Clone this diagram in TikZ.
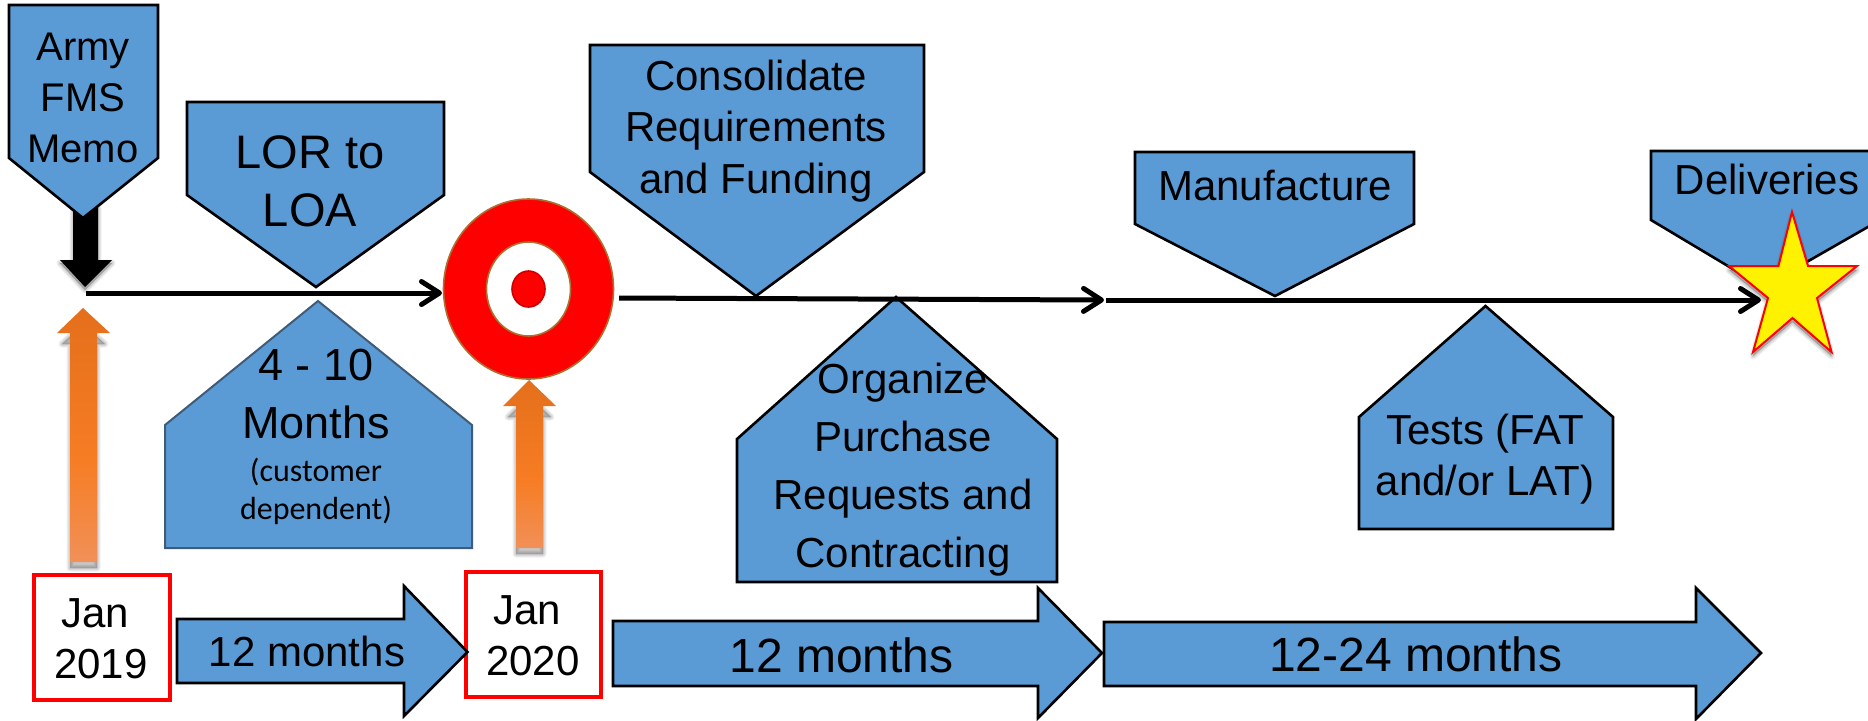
\documentclass[tikz,border=0pt]{standalone}
\usepackage{fontspec}
\setmainfont{Liberation Sans}
\newfontfamily\carlitofont{Carlito}
\usetikzlibrary{arrows.meta,shapes.geometric}
\definecolor{blueshape}{HTML}{5B9BD5}
\definecolor{targetedge}{HTML}{AE6F30}
\definecolor{softedge}{HTML}{3F5B78}
\pgfdeclareverticalshading{orangefade}{100bp}{
  rgb(0bp)=(0.945,0.565,0.345);
  rgb(25bp)=(0.945,0.565,0.345);
  rgb(45bp)=(0.965,0.490,0.140);
  rgb(75bp)=(0.895,0.435,0.105);
  rgb(100bp)=(0.895,0.435,0.105)}
\newcommand{\fsz}[2]{\fontsize{#1}{#2}\selectfont}
\newcommand{\softshadow}[2]{\foreach \w in {1,3,5,7}{\path[fill=black,draw=black,opacity=.06,line width=\w*.5pt,line join=round,shift={(#1)}] #2;}}
\tikzset{
  bluebox/.style={fill=blueshape,draw=black,line width=1.3pt,line join=miter},
  softbox/.style={fill=blueshape,draw=softedge,line width=1pt,line join=miter},
  orangearrow/.style={shading=orangefade,draw=none},
  datebox/.style={fill=white,draw=red,line width=2.4pt},
  timeline/.style={line width=2.5pt,draw=black,-{Straight Barb[length=9pt,width=11.5pt,line cap=round,line join=round]}},
  lbl/.style={anchor=base,align=center,inner sep=0pt,outer sep=0pt,text=black},
  ring/.style={ellipse,inner sep=0pt,outer sep=0pt,draw=targetedge,line width=.8pt},
}
\begin{document}
\begin{tikzpicture}[x=.5pt,y=-.5pt]
\useasboundingbox (0,0) rectangle (1868,720);
\fill[white] (0,0) rectangle (1868,720);

% black down arrow
\softshadow{0,3}{(73,205)--(98,205)--(98,260)--(112,260)--(85,287)--(60,260)--(73,260)--cycle}
\fill[black] (73,205)--(98,205)--(98,260)--(112,260)--(85,287)--(60,260)--(73,260)--cycle;

% orange arrows
\softshadow{0,6}{(70,338)--(62,338)--(83,318)--(105,338)--(97,338)--(97,562)--(70,562)--cycle}
\shade[orangearrow] (70,333)--(57,333)--(83,308)--(110,333)--(97,333)--(97,562)--(70,562)--cycle;
\softshadow{0,6}{(516,411)--(508,411)--(529,390)--(551,411)--(543,411)--(543,548)--(516,548)--cycle}
\shade[orangearrow] (516,406)--(503,406)--(529,380)--(556,406)--(543,406)--(543,548)--(516,548)--cycle;

% pointing-down pentagons
\draw[bluebox] (9,5)--(158,5)--(158,158)--(83,218)--(9,158)--cycle;
\draw[bluebox] (187,102)--(444,102)--(444,195)--(316,287)--(187,195)--cycle;
\draw[bluebox] (590,45)--(924,45)--(924,172)--(756,296)--(590,172)--cycle;
\draw[bluebox] (1135,152)--(1414,152)--(1414,224)--(1275,296)--(1135,224)--cycle;
\draw[bluebox] (1651,151)--(1880,151)--(1880,220)--(1763,287)--(1651,220)--cycle;

% pointing-up houses
\draw[softbox] (318,301)--(472,425)--(472,548)--(165,548)--(165,425)--cycle;
\draw[bluebox] (896,297)--(1057,439)--(1057,582)--(737,582)--(737,439)--cycle;
\draw[bluebox] (1485.5,306)--(1613,417)--(1613,529)--(1359,529)--(1359,417)--cycle;

% target
\node[ring,fill=red,minimum width=170pt/2,minimum height=180pt/2] (target) at (528.5,289) {};
\node[ring,fill=white,minimum width=84pt/2,minimum height=94pt/2] (targetmid) at (528.5,289) {};
\node[ring,fill=red,draw=red!80!black,minimum width=33pt/2,minimum height=36pt/2] (targetcore) at (528.5,289) {};

% timeline
\coordinate (lineA) at (86,293);
\coordinate (lineAend) at (442,293);
\coordinate (lineB) at (619,298);
\coordinate (lineBend) at (1104,300);
\coordinate (lineC) at (1106,300);
\coordinate (lineCend) at (1761,300);
\draw[timeline] (lineA) -- (lineAend);
\draw[timeline] (lineB) -- (lineBend);
\draw[timeline] (lineC) -- (lineCend);

% star
\softshadow{0,4}{(1792,212)--(1808,266)--(1857,266)--(1817,298)--(1831.5,352)--(1792.5,318)--(1753,352)--(1768,298)--(1729,266)--(1778.5,266)--cycle}
\draw[fill=yellow,draw=red,line width=1pt,line join=miter] (1792,212)--(1808,266)--(1857,266)--(1817,298)--(1831.5,352)--(1792.5,318)--(1753,352)--(1768,298)--(1729,266)--(1778.5,266)--cycle;

% date boxes
\node[datebox,minimum width=68pt,minimum height=62.5pt,inner sep=0pt] (jan19) at (102,637.5) {};
\node[datebox,minimum width=67.5pt,minimum height=62.5pt,inner sep=0pt] (jan20) at (533.5,634.5) {};

% block arrows
\draw[bluebox] (177,619)--(404,619)--(404,586)--(467.5,652)--(404,716)--(404,683)--(177,683)--cycle;
\draw[bluebox] (613,621)--(1038,621)--(1038,588)--(1102,653)--(1038,718)--(1038,686)--(613,686)--cycle;
\draw[bluebox] (1104,622)--(1696,622)--(1696,588)--(1761,653)--(1696,719)--(1696,686)--(1104,686)--cycle;

% labels
\node[lbl,font=\fsz{20}{25.5}] (armytext) at (83,162) {Army\\FMS\\Memo};
\node[lbl,font=\fsz{23.5}{29}] (lortext) at (310,226) {LOR to\\LOA};
\node[lbl,font=\fsz{21}{25.7}] (constext) at (756,193) {Consolidate\\Requirements\\and Funding};
\node[lbl,font=\fsz{21}{26}] (manutext) at (1275,200) {Manufacture};
\node[lbl,font=\fsz{21}{26}] (delivtext) at (1767,194) {Deliveries};
\node[lbl,font=\fsz{22.5}{29}] (monthstext) at (316,438) {4 - 10\\Months};
\node[lbl,font=\fsz{16}{19}\carlitofont] (custtext) at (316,519) {(customer\\dependent)};
\node[lbl,font=\fsz{21}{29}] (orgtext) at (903,567) {Organize\\Purchase\\Requests and\\Contracting};
\node[lbl,font=\fsz{21}{25.5}] (teststext) at (1485,495) {Tests (FAT\\and/or LAT)};
\node[lbl,font=\fsz{21}{25.5}] (jan19text) at (101,678) {Jan\hspace*{.278em}\\2019};
\node[lbl,font=\fsz{21}{25.5}] (jan20text) at (533,675) {Jan\hspace*{.278em}\\2020};
\node[lbl,font=\fsz{21}{26}] (arr1text) at (307,666) {12 months};
\node[lbl,font=\fsz{24}{29}] (arr2text) at (841.5,672) {12 months};
\node[lbl,font=\fsz{24}{29}] (arr3text) at (1416,671) {12-24 months};
\end{tikzpicture}
\end{document}
